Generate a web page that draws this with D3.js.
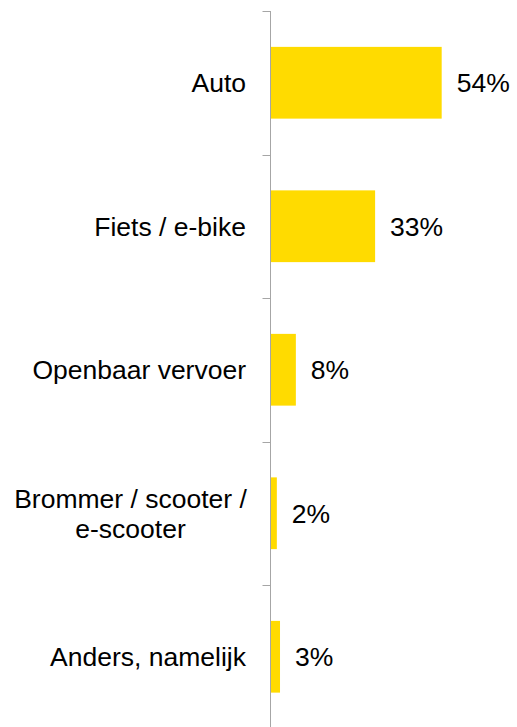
<!DOCTYPE html>
<html>
<head>
<meta charset="utf-8">
<script src="https://cdn.jsdelivr.net/npm/d3@7"></script>
<style>
  body { margin: 0; background: #fff; }
  svg { display: block; font-family: "Liberation Sans", Arial, sans-serif; }
</style>
</head>
<body>
<div id="chart"></div>
<script>
// categories (multi-line labels split into lines) and values in %
var categories = ["Auto", "Fiets / e-bike", "Openbaar vervoer", "Brommer / scooter / e-scooter", "Anders, namelijk"];
var labelLines = [["Auto"], ["Fiets / e-bike"], ["Openbaar vervoer"], ["Brommer / scooter /", "e-scooter"], ["Anders, namelijk"]];
var values = [54, 33, 8, 2, 3];

var data = categories.map(function(c, i) { return { cat: c, lines: labelLines[i], value: values[i] }; });

var width = 517, height = 727;
var svg = d3.select("#chart").append("svg")
  .attr("width", width)
  .attr("height", height);

var axisX = 270.5;

// x scale (percent)
var x = d3.scaleLinear()
  .domain([0, 60])
  .range([axisX, axisX + 190.2]);

// y scale, one band per category
var y = d3.scaleBand()
  .domain(categories)
  .range([11, 11 + 5 * 143.5])
  .paddingInner(0.5)
  .paddingOuter(0.25);

var gap = (y.step() - y.bandwidth()) / 2;

// axis line + ticks between categories
svg.append("line")
  .attr("x1", axisX).attr("x2", axisX)
  .attr("y1", y.range()[0]).attr("y2", y.range()[1])
  .attr("stroke", "#a6a6a6")
  .attr("stroke-width", 1);

var bounds = categories.map(function(c) { return y(c) - gap; });
bounds.push(y.range()[1]);
svg.selectAll(".tick")
  .data(bounds)
  .enter()
  .append("line")
    .attr("x1", axisX - 8).attr("x2", axisX)
    .attr("y1", function(d) { return Math.round(d) + 0.5; })
    .attr("y2", function(d) { return Math.round(d) + 0.5; })
    .attr("stroke", "#a6a6a6");

// bars
svg.selectAll(".bar")
  .data(data)
  .enter()
  .append("rect")
    .attr("x", axisX + 0.5)
    .attr("y", function(d) { return y(d.cat); })
    .attr("width", function(d) { return x(d.value) - axisX - 0.5; })
    .attr("height", y.bandwidth())
    .attr("fill", "#ffdb00");

// value labels
svg.selectAll(".val")
  .data(data)
  .enter()
  .append("text")
    .attr("x", function(d) { return x(d.value) + 15; })
    .attr("y", function(d) { return y(d.cat) + y.bandwidth() / 2; })
    .attr("dy", "0.35em")
    .style("font-size", "26.5px")
    .attr("fill", "#000")
    .text(function(d) { return d.value + "%"; });

// category labels
var lh = 30;
var labels = svg.selectAll(".cat")
  .data(data)
  .enter()
  .append("text")
    .style("font-size", "26.5px")
    .attr("fill", "#000")
    .attr("text-anchor", function(d) { return d.lines.length > 1 ? "middle" : "end"; })
    .attr("transform", function(d) {
      var cy = y(d.cat) + y.bandwidth() / 2;
      var tx = d.lines.length > 1 ? 130.5 : 246;
      return "translate(" + tx + "," + (cy - (d.lines.length - 1) * lh / 2) + ")";
    });

labels.selectAll("tspan")
  .data(function(d) { return d.lines; })
  .enter()
  .append("tspan")
    .attr("x", 0)
    .attr("y", function(d, i) { return i * lh; })
    .attr("dy", "0.35em")
    .text(function(d) { return d; });
</script>
</body>
</html>
